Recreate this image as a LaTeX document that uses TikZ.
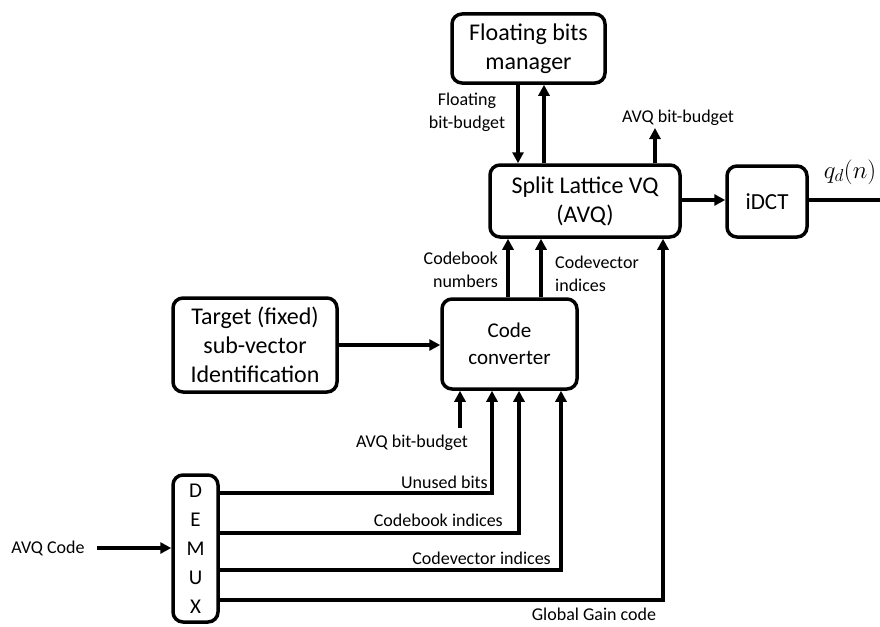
\documentclass[tikz,border=0pt]{standalone}
\usepackage{fontspec}
\setmainfont{Carlito}
\usetikzlibrary{arrows.meta,calc}
\begin{document}
\begin{tikzpicture}[x=1pt,y=-1pt,
  blk/.style={draw,line width=3.5pt,rounded corners=10pt,inner sep=0pt,align=center,
    font=\fontsize{24}{29}\selectfont},
  lbl/.style={inner sep=0pt,font=\fontsize{18}{23}\selectfont},
  arr/.style={line width=3.5pt,-{Triangle[length=11pt,width=11pt]}},
  ln/.style={line width=3.5pt}]
\useasboundingbox (0,0) rectangle (880,626);
% blocks
\node[blk,minimum width=153pt,minimum height=69pt] (fbm) at (528.5,48.5) {Floating bits\\manager};
\node[blk,minimum width=190pt,minimum height=72pt] (vq) at (585,201) {Split Lattice VQ\\(AVQ)};
\node[blk,minimum width=80pt,minimum height=71pt,font=\fontsize{23}{28}\selectfont] (idct) at (767,201.5) {iDCT};
\node[blk,minimum width=135pt,minimum height=90pt,font=\fontsize{21}{27}\selectfont] (cc) at (509.5,344) {Code\\converter};
\node[blk,minimum width=164pt,minimum height=94pt] (tgt) at (255,345) {Target (fixed)\\sub-vector\\Identification};
\node[blk,minimum width=45pt,minimum height=147pt,font=\fontsize{21}{29}\selectfont] (dmx) at (195.5,548.5) {D\\E\\M\\U\\X};
% free ends
\coordinate (avqtop) at (655,128);
\coordinate (avqin) at (460,428);
\coordinate (qout) at (880,201);
\coordinate (avqcode) at (97,548);
% top connections
\draw[arr] (518,0 |- fbm.south) -- (518,0 |- vq.north);
\draw[arr] (544,0 |- vq.north) -- (544,0 |- fbm.south);
\draw[arr] (655,0 |- vq.north) -- (avqtop);
\draw[arr] (vq.east |- 0,200) -- (idct.west |- 0,200);
\draw[ln] (idct.east |- 0,200) -- (qout |- 0,200);
% code converter to VQ
\draw[arr] (508,0 |- cc.north) -- (508,0 |- vq.south);
\draw[arr] (541,0 |- cc.north) -- (541,0 |- vq.south);
\draw[arr] (tgt.east |- 0,345) -- (cc.west |- 0,345);
\draw[arr] (avqin) -- (avqin |- cc.south);
% demux outputs
\draw[arr] (dmx.east |- 0,493) -- (492,493) -- (492,0 |- cc.south);
\draw[arr] (dmx.east |- 0,533) -- (519,533) -- (519,0 |- cc.south);
\draw[arr] (dmx.east |- 0,570) -- (561,570) -- (561,0 |- cc.south);
\draw[arr] (dmx.east |- 0,600) -- (663,600) -- (663,0 |- vq.south);
\draw[arr] (avqcode) -- (dmx.west |- avqcode);
% labels
\node[lbl,align=center] (l1) at (467,112) {Floating\\bit-budget};
\node[lbl] (l2) at (678,118) {AVQ bit-budget};
\node[lbl,align=right,anchor=east] (l3) at (498,270) {Codebook\\numbers};
\node[lbl,align=left,anchor=west] (l4) at (555,274) {Codevector\\indices};
\node[lbl] (l5) at (412,443) {AVQ bit-budget};
\node[lbl,anchor=east] (l6) at (488,482) {Unused bits};
\node[lbl,anchor=east] (l7) at (503,520) {Codebook indices};
\node[lbl,anchor=east] (l8) at (551,558) {Codevector indices};
\node[lbl] (l9) at (594,614) {Global Gain code};
\node[lbl] (l10) at (48,548) {AVQ Code};
\node[inner sep=0pt,font=\fontsize{24}{28}\selectfont] (q) at (850,172) {$q_d(n)$};
\end{tikzpicture}
\end{document}
